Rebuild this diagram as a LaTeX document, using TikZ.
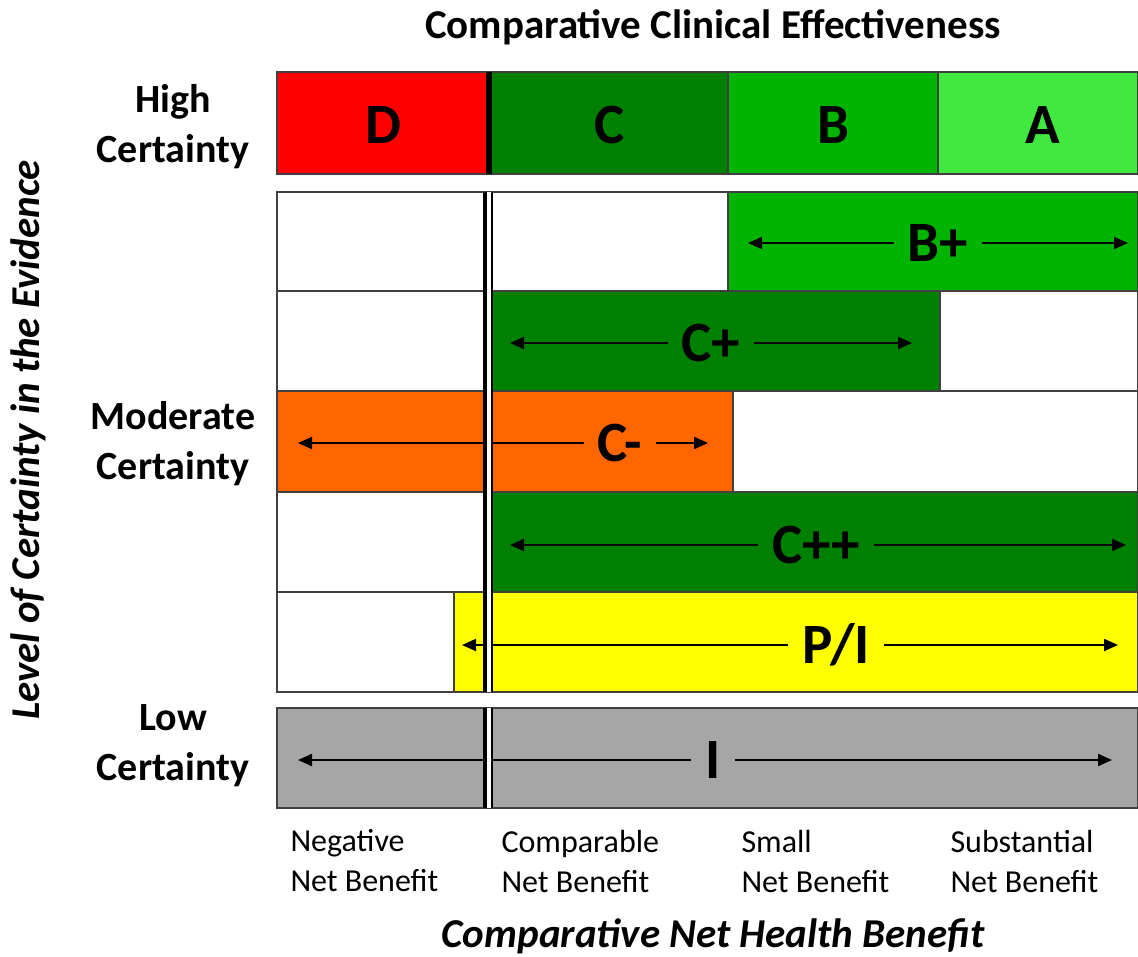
\documentclass[tikz,border=0pt]{standalone}
\usepackage{fontspec}
\setmainfont{Carlito}
\usetikzlibrary{arrows.meta}
\definecolor{cRed}{HTML}{FF0000}
\definecolor{cDark}{HTML}{008000}
\definecolor{cMid}{HTML}{00B400}
\definecolor{cLight}{HTML}{40E840}
\definecolor{cOrange}{HTML}{FF6600}
\definecolor{cYellow}{HTML}{FFFF00}
\definecolor{cGray}{HTML}{A6A6A6}
\definecolor{cBorder}{HTML}{404040}
\begin{document}
\begin{tikzpicture}[x=1pt,y=-1pt,
  cell/.style={draw=cBorder, line width=1.3pt},
  grade/.style={font=\fontsize{57}{60}\selectfont\bfseries, inner xsep=14pt, inner ysep=0pt},
  arr/.style={-{Triangle[length=14pt,width=12pt]}, line width=2pt},
  sidelab/.style={align=center, font=\fontsize{40}{50}\selectfont\bfseries},
  axlab/.style={align=left, anchor=west, font=\fontsize{32}{40}\selectfont},
  title/.style={font=\fontsize{41}{46}\selectfont\bfseries, inner sep=0pt},
  axtitle/.style={font=\fontsize{41}{46}\selectfont\bfseries\itshape, inner sep=0pt}
]
\useasboundingbox (0,0) rectangle (1138,956);

% ---- High certainty row
\filldraw[cell, fill=cRed]    (277,72) rectangle (489,174);
\filldraw[cell, fill=cDark]   (489,72) rectangle (728,174);
\filldraw[cell, fill=cMid]    (728,72) rectangle (938,174);
\filldraw[cell, fill=cLight]  (938,72) rectangle (1138,174);
\draw[line width=6pt] (489,72) -- (489,174);
\node[grade] (D) at (383,125) {D};
\node[grade] (C) at (610,125) {C};
\node[grade] (B) at (833,125) {B};
\node[grade] (A) at (1043,125) {A};

% ---- Row B+
\filldraw[cell, fill=white] (277,192) rectangle (488,291);
\filldraw[cell, fill=white] (488,192) rectangle (728,291);
\filldraw[cell, fill=cMid]  (728,192) rectangle (1138,291);
% ---- Row C+
\filldraw[cell, fill=white] (277,291) rectangle (488,391);
\filldraw[cell, fill=cDark] (488,291) rectangle (940,391);
\filldraw[cell, fill=white] (940,291) rectangle (1138,391);
% ---- Row C-
\filldraw[cell, fill=cOrange] (277,391) rectangle (733,492);
\filldraw[cell, fill=white]   (733,391) rectangle (1138,492);
% ---- Row C++
\filldraw[cell, fill=white] (277,492) rectangle (488,592);
\filldraw[cell, fill=cDark] (488,492) rectangle (1138,592);
% ---- Row P/I
\filldraw[cell, fill=white]   (277,592) rectangle (454,692);
\filldraw[cell, fill=cYellow] (454,592) rectangle (1138,692);
% ---- Low certainty row
\filldraw[cell, fill=cGray] (277,708) rectangle (1138,808);

% ---- grade labels and arrows
\node[grade] (Bp) at (938,243) {B+};
\coordinate (BpL) at (748,243); \coordinate (BpR) at (1128,243);
\draw[arr] (Bp.west) -- (BpL);
\draw[arr] (Bp.east) -- (BpR);

\node[grade] (Cp) at (711,343) {C+};
\coordinate (CpL) at (510,343); \coordinate (CpR) at (912,343);
\draw[arr] (Cp.west) -- (CpL);
\draw[arr] (Cp.east) -- (CpR);

\node[grade] (Cm) at (620,443) {C-};
\coordinate (CmL) at (298,443); \coordinate (CmR) at (708,443);
\draw[arr] (Cm.west) -- (CmL);
\draw[arr] (Cm.east) -- (CmR);

\node[grade] (Cpp) at (816,545) {C++};
\coordinate (CppL) at (510,545); \coordinate (CppR) at (1126,545);
\draw[arr] (Cpp.west) -- (CppL);
\draw[arr] (Cpp.east) -- (CppR);

\node[grade] (PI) at (836,645) {P/I};
\coordinate (PIL) at (462,645); \coordinate (PIR) at (1118,645);
\draw[arr] (PI.west) -- (PIL);
\draw[arr] (PI.east) -- (PIR);

\node[grade] (I) at (713,760) {I};
\coordinate (IL) at (298,760); \coordinate (IR) at (1112,760);
\draw[arr] (I.west) -- (IL);
\draw[arr] (I.east) -- (IR);

% ---- double separator line
\foreach \ya/\yb in {192/692, 708/808}{
  \fill[white] (486.5,\ya) rectangle (490.7,\yb);
  \draw[line width=3.3pt] (485,\ya) -- (485,\yb);
  \draw[line width=2.6pt] (492,\ya) -- (492,\yb);
}

% ---- side labels
\node[sidelab] (hi)  at (173,127) {High\\Certainty};
\node[sidelab] (mod) at (173,444) {Moderate\\Certainty};
\node[sidelab] (low) at (173,746) {Low\\Certainty};
\node[axtitle, rotate=90] (yax) at (28,440) {Level of Certainty in the Evidence};

% ---- bottom labels
\node[axlab] (neg) at (287,861) {Negative\\Net Benefit};
\node[axlab] (com) at (498,861) {Comparable\\Net Benefit};
\node[axlab] (sma) at (738,861) {Small\\Net Benefit};
\node[axlab] (sub) at (947,861) {Substantial\\Net Benefit};
\node[axtitle] (xax) at (713,936) {Comparative Net Health Benefit};
\node[title] (top) at (713,27) {Comparative Clinical Effectiveness};
\end{tikzpicture}
\end{document}
